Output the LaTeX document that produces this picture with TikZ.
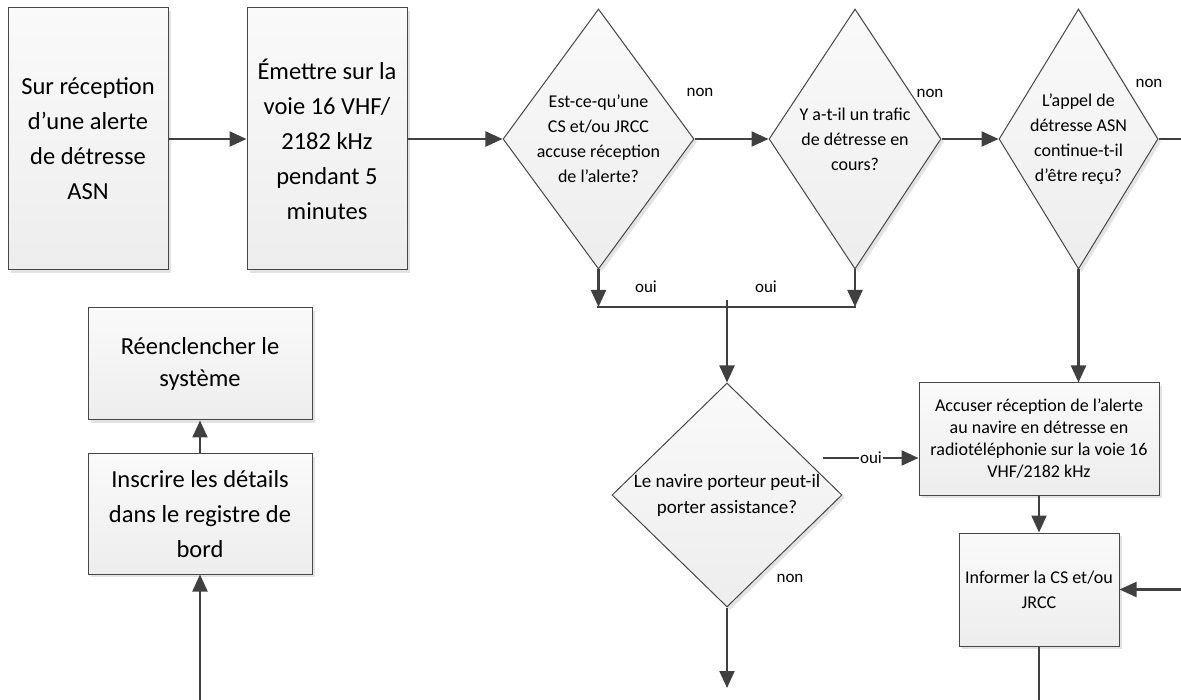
\documentclass[tikz,border=0pt]{standalone}
\usepackage{fontspec}
\setmainfont{Carlito}
\usetikzlibrary{shapes.geometric,arrows.meta,shadows}
\begin{document}
\begin{tikzpicture}[x=1pt,y=-1pt,
  box/.style={draw=black!72,line width=1pt,top color=black!2,bottom color=black!7,
    drop shadow={shadow xshift=3pt,shadow yshift=-3pt,fill=black!11,opacity=1},
    inner sep=0pt,align=center,text=black},
  bigtxt/.style={font=\fontsize{24.5}{35}\selectfont},
  smalltxt/.style={font=\fontsize{18}{22}\selectfont},
  decision/.style={box,shape=diamond},
  dlabel/.style={align=center,text=black,font=\fontsize{18}{25}\selectfont},
  ans/.style={text=black,font=\fontsize{17}{20}\selectfont,inner sep=1pt},
  conn/.style={draw=black!75,line width=2.2pt,-{Triangle[length=17pt,width=15pt]}},
  wire/.style={draw=black!75,line width=2.2pt}]
\useasboundingbox (0,0) rectangle (1181,700);
\node (b1) at (88,139) [box,bigtxt,minimum width=160,minimum height=262] {Sur réception\\d’une alerte\\de détresse\\ASN};
\node (b2) at (327,139) [box,bigtxt,minimum width=160,minimum height=262] {Émettre sur la\\voie 16 VHF/\\2182 kHz\\pendant 5\\minutes};
\node (d1) at (598.5,139) [decision,minimum width=191,minimum height=260,label={[dlabel]center:Est-ce-qu’une\\CS et/ou JRCC\\accuse réception\\de l’alerte?}] {};
\node (d2) at (855,139) [decision,minimum width=172,minimum height=260,label={[dlabel]center:Y a-t-il un trafic\\de détresse en\\cours?}] {};
\node (d3) at (1078.5,139) [decision,minimum width=159,minimum height=260,label={[dlabel]center:L’appel de\\détresse ASN\\continue-t-il\\d’être reçu?}] {};
\node (d4) at (727,495) [decision,minimum width=230,minimum height=224,label={[dlabel,font=\fontsize{19}{26}\selectfont]center:Le navire porteur peut-il\\porter assistance?}] {};
\node (b3) at (1039,439) [box,smalltxt,minimum width=240,minimum height=112] {Accuser réception de l’alerte\\au navire en détresse en\\radiotéléphonie sur la voie 16\\VHF/2182 kHz};
\node (b4) at (1039,589.5) [box,smalltxt,minimum width=160,minimum height=113,font=\fontsize{18}{25}\selectfont] {Informer la CS et/ou\\JRCC};
\node (b5) at (200,364) [box,bigtxt,minimum width=224,minimum height=112,font=\fontsize{24.5}{32}\selectfont] {Réenclencher le\\système};
\node (b6) at (200,514) [box,bigtxt,minimum width=224,minimum height=120] {Inscrire les détails\\dans le registre de\\bord};
\coordinate (j1) at (598.5,307);
\coordinate (j2) at (855,307);
\coordinate (j3) at (727,300);
\coordinate (e1) at (1181,139);
\coordinate (e2) at (1039,700);
\coordinate (e3) at (727,688);
\coordinate (e4) at (200,700);
\coordinate (r1) at (1181,589.5);
\coordinate (o1) at (823,458);
\draw[conn] (b1) -- (b2);
\draw[conn] (b2) -- (d1);
\draw[conn] (d1) -- (d2);
\draw[conn] (d2) -- (d3);
\draw[wire] (d3.east) -- (e1);
\draw[conn] (d1.south) -- (j1);
\draw[conn] (d2.south) -- (j2);
\draw[wire,line cap=rect] (j1) -- (j2);
\draw[conn] (j3) -- (d4.north);
\draw[conn] (d4.south) -- (e3);
\draw[conn] (o1) -- (o1 -| b3.west);
\draw[conn] (d3.south) -- (d3.south |- b3.north);
\draw[conn] (b3) -- (b4);
\draw[conn] (r1) -- (b4.east);
\draw[wire] (b4.south) -- (e2);
\draw[conn] (b6) -- (b5);
\draw[conn] (e4) -- (b6.south);
% answers
\node (n1) at (700,92) [ans] {non};
\node (n2) at (930,93) [ans] {non};
\node (n3) at (1149,83) [ans] {non};
\node (n4) at (790,578) [ans] {non};
\node (y1) at (646,287) [ans] {oui};
\node (y2) at (766,287) [ans] {oui};
\node (y3) at (871,458) [ans,fill=white] {oui};
\end{tikzpicture}
\end{document}
